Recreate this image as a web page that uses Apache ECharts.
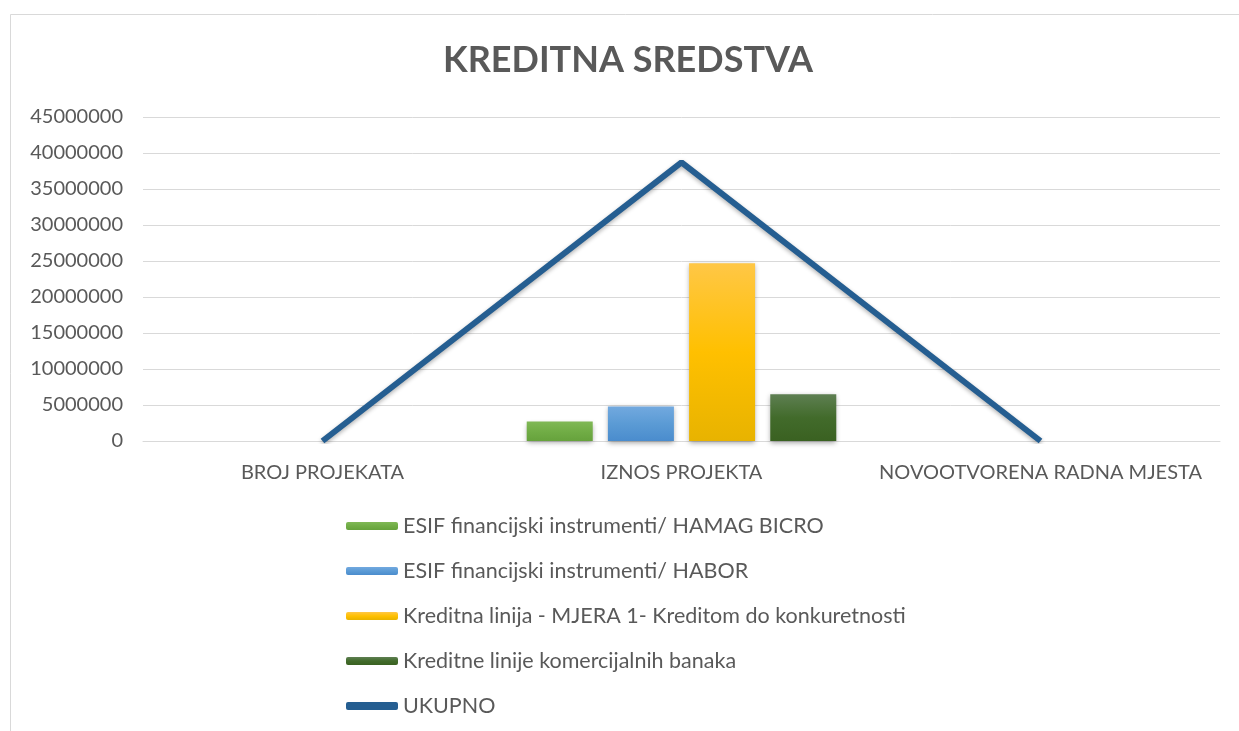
<!DOCTYPE html>
<html>
<head>
<meta charset="utf-8">
<script src="https://cdn.jsdelivr.net/npm/echarts@6/dist/echarts.min.js"></script>
<style>
html,body{margin:0;padding:0;background:#fff;}
#chart{width:1239px;height:731px;}
</style>
</head>
<body>
<div id="chart"></div>
<script>
const categories = ['BROJ PROJEKATA', 'IZNOS PROJEKTA', 'NOVOOTVORENA RADNA MJESTA'];
const seriesNames = [
  'ESIF financijski instrumenti/ HAMAG BICRO',
  'ESIF financijski instrumenti/ HABOR',
  'Kreditna linija - MJERA 1- Kreditom do konkuretnosti',
  'Kreditne linije komercijalnih banaka',
  'UKUPNO'
];
const hamag = [20, 2700000, 60];
const habor = [15, 4800000, 40];
const mjera1 = [90, 24700000, 250];
const banke = [30, 6500000, 80];
const ukupno = [155, 38700000, 430];
const yTicks = [0, 5000000, 10000000, 15000000, 20000000, 25000000, 30000000, 35000000, 40000000, 45000000];

const font = 'Lato, "Open Sans", sans-serif';
const grad = (a, b, c) => new echarts.graphic.LinearGradient(0, 0, 0, 1, [
  {offset: 0, color: a}, {offset: 0.5, color: b}, {offset: 1, color: c}
]);
const barStyle = (g) => ({color: g, shadowColor: 'rgba(0,0,0,0.35)', shadowBlur: 5, shadowOffsetY: 2});

const chart = echarts.init(document.getElementById('chart'), null, {renderer: 'canvas'});
chart.setOption({
  animation: false,
  backgroundColor: '#fff',
  graphic: [{
    type: 'rect', left: 8, top: 12, shape: {width: 1240, height: 730},
    style: {fill: 'none', stroke: '#d9d9d9', lineWidth: 1}, z: -1
  }],
  title: {
    text: 'KREDITNA SREDSTVA', left: 443, top: 42, padding: 0,
    textStyle: {fontFamily: font, fontSize: 36, fontWeight: 'bold', color: '#595959'}
  },
  grid: {left: 143, right: 19, top: 117, bottom: 290, containLabel: false},
  legend: {
    orient: 'vertical', left: 346, top: 515, padding: 0,
    itemWidth: 52, itemHeight: 8, itemGap: 23,
    data: seriesNames.slice(0, 4).concat([{name: seriesNames[4], icon: 'roundRect', itemStyle: {color: '#255e91'}}]),
    textStyle: {fontFamily: font, fontSize: 21.5, color: '#595959', lineHeight: 20, padding: [0, 0, 0, 0]}
  },
  xAxis: {
    type: 'category', data: categories,
    axisLine: {lineStyle: {color: '#d9d9d9', width: 1}},
    axisTick: {show: false},
    axisLabel: {fontFamily: font, fontSize: 20, color: '#595959', margin: 22, interval: 0}
  },
  yAxis: {
    type: 'value', min: 0, max: 45000000, interval: 5000000,
    axisLine: {show: false}, axisTick: {show: false},
    splitLine: {lineStyle: {color: '#d9d9d9', width: 1}},
    axisLabel: {fontFamily: font, fontSize: 20, color: '#595959', margin: 20,
      formatter: v => yTicks.includes(v) ? String(v) : ''}
  },
  series: [
    {name: seriesNames[0], type: 'bar', data: hamag, barWidth: 66, barGap: '23%',
      itemStyle: barStyle(grad('#80b856', '#71ad46', '#66a23c'))},
    {name: seriesNames[1], type: 'bar', data: habor, barWidth: 66, barGap: '23%',
      itemStyle: barStyle(grad('#72a9df', '#5b9bd5', '#4a8ccd'))},
    {name: seriesNames[2], type: 'bar', data: mjera1, barWidth: 66, barGap: '23%',
      itemStyle: barStyle(grad('#ffc746', '#ffc000', '#e8b300'))},
    {name: seriesNames[3], type: 'bar', data: banke, barWidth: 66, barGap: '23%',
      itemStyle: barStyle(grad('#5e7f52', '#426b2b', '#3a6121'))},
    {name: seriesNames[4], type: 'line', data: ukupno, symbol: 'none', z: 5,
      lineStyle: {color: '#255e91', width: 6, shadowColor: 'rgba(0,0,0,0.3)', shadowBlur: 4, shadowOffsetY: 2},
      itemStyle: {color: '#255e91'}}
  ]
});
</script>
</body>
</html>
